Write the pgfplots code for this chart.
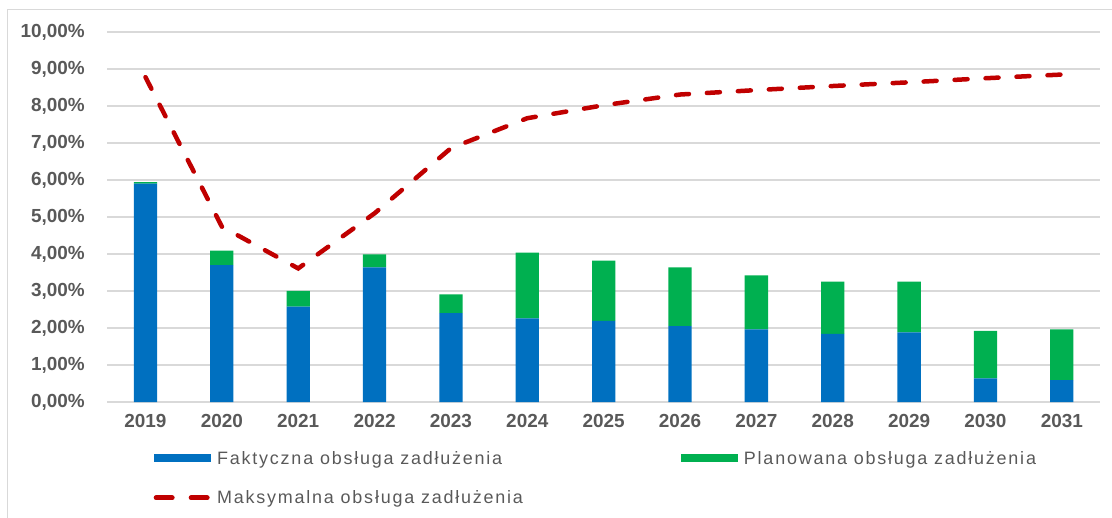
\documentclass[border=0pt]{standalone}
\usepackage{pgfplots}
\pgfplotsset{compat=1.18}
\usepackage{pgfplotstable}
\usepackage{fontspec}
\setmainfont{Liberation Sans}
\definecolor{fblue}{HTML}{0070C0}
\definecolor{pgreen}{HTML}{00B050}
\definecolor{mred}{HTML}{C00000}
\definecolor{gridgray}{HTML}{D9D9D9}
\definecolor{txtgray}{HTML}{595959}
\pgfplotstableread{
x blue green max
0 5.90 0.04 8.78
1 3.70 0.39 4.74
2 2.58 0.42 3.61
3 3.64 0.35 5.10
4 2.40 0.51 6.86
5 2.26 1.78 7.67
6 2.19 1.63 8.02
7 2.05 1.59 8.31
8 1.96 1.46 8.43
9 1.84 1.41 8.54
10 1.88 1.37 8.64
11 0.64 1.28 8.75
12 0.59 1.37 8.85
}\data
\begin{document}
\begin{tikzpicture}
\useasboundingbox (-107.3bp,-116bp) rectangle (1004.7bp,402bp);
\draw[gridgray, line width=1bp] (-99.3bp,-130bp) -- (-99.3bp,392bp) -- (1020bp,392bp);
\begin{axis}[
 at={(0,0)}, anchor=south west, scale only axis, width=992.7bp, height=370bp,
 xmin=-0.5, xmax=12.5, ymin=0, ymax=10,
 ybar stacked, bar width=23.3bp,
 axis line style={draw=none}, tick style={draw=none},
 ymajorgrids, grid style={gridgray, line width=1.3bp},
 xtick={0,...,12},
 xticklabels={2019,2020,2021,2022,2023,2024,2025,2026,2027,2028,2029,2030,2031},
 ytick={0,...,10},
 yticklabels={{0,00\%},{1,00\%},{2,00\%},{3,00\%},{4,00\%},{5,00\%},{6,00\%},{7,00\%},{8,00\%},{9,00\%},{10,00\%}},
 ticklabel style={font=\fontsize{19}{21}\selectfont\bfseries, text=txtgray},
 yticklabel style={xshift=-19bp},
 xticklabel style={yshift=-9bp},
 legend style={at={(0.043,-0.127)}, anchor=north west, draw=none, fill=none,
   font=\fontsize{18}{20}\selectfont\addfontfeature{LetterSpace=10}, text=txtgray, legend columns=2,
   /tikz/every even column/.append style={column sep=152bp}, row sep=21bp, inner sep=0pt},
 legend cell align=left,
]
\addplot[fill=fblue, draw=none, legend image code/.code={\draw[fblue, line width=8bp] (0bp,0bp) -- (57bp,0bp);}] table[x=x,y=blue]{\data};
\addplot[fill=pgreen, draw=none, legend image code/.code={\draw[pgreen, line width=8bp] (0bp,0bp) -- (57bp,0bp);}] table[x=x,y=green]{\data};
\addlegendimage{legend image code/.code={\draw[mred, line width=5bp, line cap=round] (2bp,0bp) -- (18bp,0bp) (37bp,0bp) -- (53bp,0bp);}}
\legend{Faktyczna obsługa zadłużenia, Planowana obsługa zadłużenia, Maksymalna obsługa zadłużenia}
\end{axis}
\begin{axis}[at={(0,0)}, anchor=south west, scale only axis, width=992.7bp, height=370bp,
 xmin=-0.5, xmax=12.5, ymin=0, ymax=10, hide axis]
\addplot[mred, line width=4.5bp, dash pattern=on 13bp off 18bp, line cap=round] table[x=x,y=max]{\data};
\end{axis}
\end{tikzpicture}
\end{document}
